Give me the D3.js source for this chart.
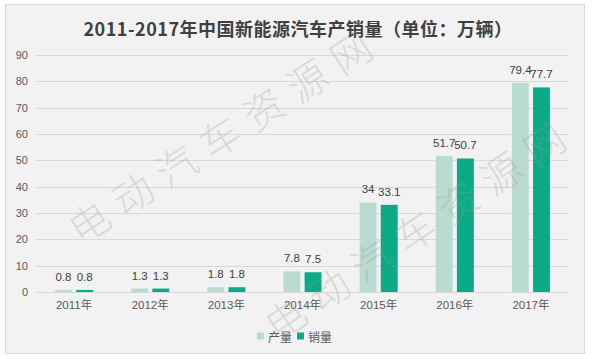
<!DOCTYPE html>
<html><head><meta charset="utf-8">
<script src="https://cdn.jsdelivr.net/npm/d3@7"></script>
<style>
html,body{margin:0;padding:0;background:#fff;}
svg{display:block;}
</style></head>
<body>
<svg id="c" width="596" height="359"></svg>
<script>
const years = ["2011年","2012年","2013年","2014年","2015年","2016年","2017年"];
const seriesNames = ["产量","销量"];
const production = [0.8, 1.3, 1.8, 7.8, 34, 51.7, 79.4];
const sales = [0.8, 1.3, 1.8, 7.5, 33.1, 50.7, 77.7];
const yTicks = [0,10,20,30,40,50,60,70,80,90];
const titleText = "2011-2017年中国新能源汽车产销量（单位：万辆）";
const watermark = "电动汽车资源网";

const colors = {"产量":"#b9dbd1","销量":"#0aab86"};
const numFont = "'Liberation Sans','Noto Sans CJK SC',sans-serif";
const cjkFont = "'Noto Sans CJK SC',sans-serif";

const svg = d3.select("#c");
svg.append("rect").attr("x",5.5).attr("y",4.5).attr("width",579).attr("height",349)
  .attr("fill","#f2f2f2").attr("stroke","#d9d9d9").attr("stroke-width",1);

const x0 = d3.scaleBand().domain(years).range([36,569]);
const bw = x0.bandwidth();
const x1 = d3.scaleBand().domain(seriesNames).range([bw*0.25, bw*0.75]).paddingInner(0.2);
const y = d3.scaleLinear().domain([0,90]).range([292,55]);

// title
svg.append("text").attr("x",298).attr("y",36).attr("text-anchor","middle")
  .attr("font-family",cjkFont).attr("font-weight","bold").attr("font-size",18)
  .attr("letter-spacing",0.5)
  .attr("fill","#404040").text(titleText);

// grid
const grid = svg.append("g");
grid.selectAll("line").data(yTicks).join("line")
  .attr("x1",36).attr("x2",569)
  .attr("y1",d=>Math.round(y(d))+0.5).attr("y2",d=>Math.round(y(d))+0.5)
  .attr("stroke","#d9d9d9").attr("stroke-width",1);

// y axis labels
const yAxis = d3.axisLeft(y).tickValues(yTicks).tickSize(0).tickPadding(0);
const ya = svg.append("g").attr("transform","translate(28,0)").call(yAxis);
ya.select(".domain").remove();
ya.selectAll("text").attr("font-family",numFont).attr("font-size",11).attr("fill","#595959");

// bars
const data = years.map((yr,i)=>({year:yr, vals:[{k:"产量",v:production[i]},{k:"销量",v:sales[i]}]}));
const groups = svg.append("g").selectAll("g").data(data).join("g")
  .attr("transform",d=>`translate(${x0(d.year)},0)`);
groups.selectAll("rect").data(d=>d.vals).join("rect")
  .attr("x",d=>x1(d.k)).attr("width",x1.bandwidth())
  .attr("y",d=>y(d.v)).attr("height",d=>y(0)-y(d.v))
  .attr("fill",d=>colors[d.k]);
groups.selectAll("text").data(d=>d.vals).join("text")
  .attr("x",d=>x1(d.k)+x1.bandwidth()/2).attr("y",d=>y(d.v)-9)
  .attr("text-anchor","middle").attr("font-family",numFont).attr("font-size",11.5)
  .attr("fill","#404040").text(d=>d.v);

// x axis
const xAxis = d3.axisBottom(x0).tickSize(0).tickPadding(0);
const xa = svg.append("g").attr("transform","translate(0,301)").call(xAxis);
xa.select(".domain").remove();
xa.selectAll("text").attr("font-family",numFont).attr("font-size",11.5).attr("fill","#595959");

// watermark
function drawWM(cx,cy,ang){
  const g = svg.append("g").attr("transform",`translate(${cx},${cy}) rotate(${ang})`);
  g.selectAll("text").data(Array.from(watermark)).join("text")
    .attr("x",(d,i)=>(i-3)*52).attr("y",0).attr("text-anchor","middle")
    .attr("dominant-baseline","central")
    .attr("font-family","'Noto Sans CJK SC',sans-serif").attr("font-weight",300)
    .attr("font-size",40).attr("fill","#9a9a9a").attr("fill-opacity",0.3)
    .text(d=>d);
}
drawWM(219,136,-33);
drawWM(414,230,-34);

// legend
const legend = svg.append("g").attr("transform","translate(257,336)");
const li = legend.selectAll("g").data(seriesNames).join("g")
  .attr("transform",(d,i)=>`translate(${i*40},0)`);
li.append("rect").attr("x",0).attr("y",-3.5).attr("width",7).attr("height",7).attr("fill",d=>colors[d]);
li.append("text").attr("x",11).attr("y",0).attr("dominant-baseline","central")
  .attr("font-family",cjkFont).attr("font-size",12).attr("fill","#595959").text(d=>d);
</script>
</body></html>
